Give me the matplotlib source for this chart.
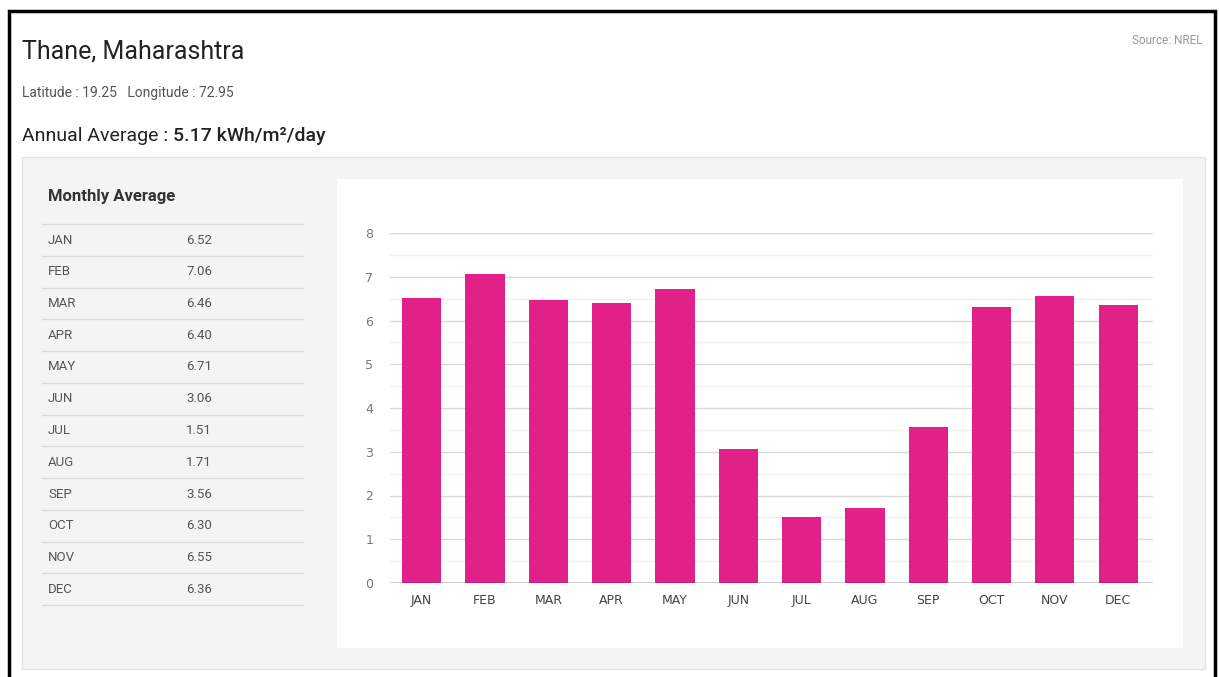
import matplotlib
matplotlib.use("Agg")
import matplotlib.pyplot as plt
from matplotlib.patches import Rectangle
from matplotlib.ticker import MultipleLocator

months = ["JAN", "FEB", "MAR", "APR", "MAY", "JUN",
          "JUL", "AUG", "SEP", "OCT", "NOV", "DEC"]
monthly_avg = [6.52, 7.06, 6.46, 6.40, 6.71, 3.06,
               1.51, 1.71, 3.56, 6.30, 6.55, 6.36]
place = "Thane, Maharashtra"
coords = "Latitude : 19.25   Longitude : 72.95"
annual_avg = "5.17 kWh/m\u00b2/day"
source = "Source: NREL"

W, H = 1219, 677
BAR = "#e2208a"

plt.rcParams["font.family"] = ["Roboto", "DejaVu Sans"]
fig = plt.figure(figsize=(W / 100, H / 100), dpi=100)
fig.patch.set_facecolor("white")

# page layer in pixel coordinates (origin top-left)
bg = fig.add_axes([0, 0, 1, 1])
bg.set_xlim(0, W)
bg.set_ylim(H, 0)
bg.axis("off")

# outer frame
bg.plot([9, 9, 1215, 1215], [H + 5, 11, 11, H + 5], color="black", lw=2.5,
        solid_joinstyle="miter")

# grey card and white chart area
bg.add_patch(Rectangle((22, 157), 1183, 512, facecolor="#f4f4f4",
                       edgecolor="#e4e4e4", lw=1))
bg.add_patch(Rectangle((337, 179), 846, 469, facecolor="white",
                       edgecolor="none"))

bg.text(22, 52, place, fontsize=18, color="#222222", va="center")
bg.text(22, 93, coords, fontsize=10, color="#555555", va="center")
t1 = bg.text(22, 136, "Annual Average : ", fontsize=14, color="#222222",
             va="center")
bg.annotate(annual_avg, xy=(1, 0.5), xycoords=t1, fontsize=14,
            color="#222222", va="center", fontweight="medium")
bg.text(1203, 40, source, fontsize=8.5, color="#999999", va="center",
        ha="right")

# monthly table on the left
bg.text(48, 196, "Monthly Average", fontsize=12, color="#333333",
        va="center", fontweight="bold")
row_h = 31.75
for i in range(len(months) + 1):
    y = 224 + i * row_h
    bg.plot([42, 303], [y, y], color="#dcdcdc", lw=1)
for i, (m, v) in enumerate(zip(months, monthly_avg)):
    y = 240 + i * row_h
    bg.text(48, y, m, fontsize=9.5, color="#555555", va="center")
    bg.text(186, y, f"{v:.2f}", fontsize=9.5, color="#555555", va="center")

# bar chart
ax = fig.add_axes([390 / W, (H - 583) / H, (1153 - 390) / W, (583 - 233) / H])
ax.set_facecolor("none")
x = list(range(len(months)))
ax.bar(x, monthly_avg, width=0.62, color=BAR, zorder=3)
ax.set_xlim(-0.5, 11.55)
ax.set_ylim(0, 8)
ax.yaxis.set_major_locator(MultipleLocator(1))
ax.yaxis.set_minor_locator(MultipleLocator(0.5))
ax.grid(axis="y", which="major", color="#d9d9d9", lw=1, zorder=0)
ax.grid(axis="y", which="minor", color="#f0f0f0", lw=1, zorder=0)
ax.axhline(0, color="#333333", lw=1, zorder=4)
for s in ax.spines.values():
    s.set_visible(False)
ax.set_xticks(x)
ax.set_xticklabels(months, family="DejaVu Sans")
for lab in ax.get_yticklabels():
    lab.set_family("DejaVu Sans")
ax.tick_params(axis="x", length=0, pad=8, labelsize=9, labelcolor="#444444")
ax.tick_params(axis="y", which="both", length=0, pad=12, labelsize=9,
               labelcolor="#777777")

fig.savefig("out.png", dpi=100)
